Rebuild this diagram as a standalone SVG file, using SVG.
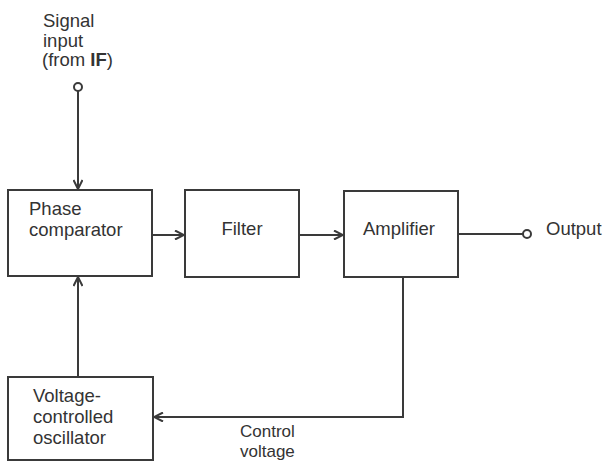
<svg xmlns="http://www.w3.org/2000/svg" width="606" height="462" viewBox="0 0 606 462">
<defs>
<style>
.box{fill:#fff;stroke:#3a3a3a;stroke-width:2}
.ln{fill:none;stroke:#3a3a3a;stroke-width:2}
.t{font-family:"Liberation Sans",Arial,sans-serif;font-size:18.5px;fill:#333}
.s{font-size:17px}
.term{fill:#fff;stroke:#3a3a3a;stroke-width:2}
</style>
<marker id="ah" viewBox="0 0 10 10" refX="10" refY="5" markerWidth="10" markerHeight="10" markerUnits="userSpaceOnUse" orient="auto">
<path d="M1,0.5 L10,5 L1,9.5" fill="none" stroke="#3a3a3a" stroke-width="2"/>
</marker>
</defs>
<rect width="606" height="462" fill="#fff"/>
<g id="signal-input">
<text class="t" x="43" y="27">Signal</text>
<text class="t" x="43" y="47">input</text>
<text class="t" x="42" y="66">(from <tspan font-weight="bold">IF</tspan>)</text>
<circle class="term" cx="78" cy="87" r="4"/>
</g>
<g id="phase-comparator">
<rect class="box" x="8" y="190" width="144" height="86"/>
<text class="t" x="29" y="215">Phase</text>
<text class="t" x="29" y="236">comparator</text>
</g>
<g id="filter">
<rect class="box" x="185" y="190" width="114" height="87"/>
<text class="t" x="242" y="235" text-anchor="middle">Filter</text>
</g>
<g id="amplifier">
<rect class="box" x="344" y="191" width="114" height="86"/>
<text class="t" x="363" y="235">Amplifier</text>
</g>
<g id="output">
<circle class="term" cx="527" cy="234" r="4"/>
<text class="t" x="546" y="235">Output</text>
</g>
<g id="vco">
<rect class="box" x="8" y="377" width="145" height="83"/>
<text class="t" x="33" y="402">Voltage-</text>
<text class="t" x="33" y="423">controlled</text>
<text class="t" x="33" y="444">oscillator</text>
</g>
<g id="control-voltage-label">
<text class="t s" x="240" y="437">Control</text>
<text class="t s" x="240" y="457">voltage</text>
</g>
<g id="connectors">
<line class="ln" x1="78" y1="91" x2="78" y2="189" marker-end="url(#ah)"/>
<line class="ln" x1="152" y1="235" x2="184" y2="235" marker-end="url(#ah)"/>
<line class="ln" x1="299" y1="235" x2="343" y2="235" marker-end="url(#ah)"/>
<line class="ln" x1="458" y1="234" x2="523" y2="234"/>
<polyline class="ln" points="403,277 403,417 154,417" marker-end="url(#ah)"/>
<line class="ln" x1="78" y1="377" x2="78" y2="277" marker-end="url(#ah)"/>
</g>
</svg>
